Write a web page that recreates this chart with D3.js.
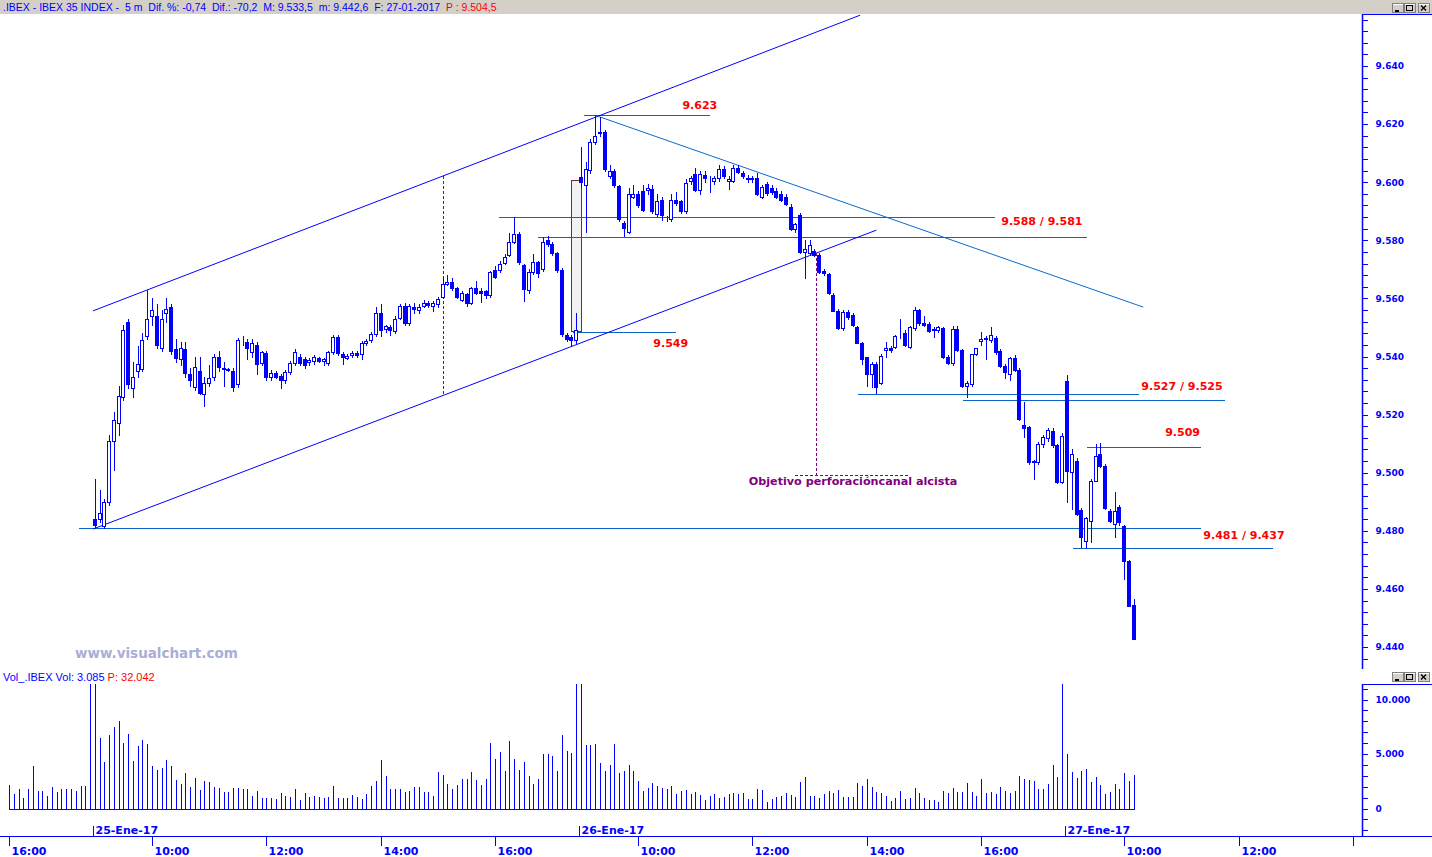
<!DOCTYPE html>
<html><head><meta charset="utf-8">
<script src="https://cdn.jsdelivr.net/npm/d3@7"></script>
<style>
body{margin:0;background:#fff;}
svg{display:block;}
text{white-space:pre;}
</style>
</head><body>
<svg id="c" width="1432" height="857"></svg>
<script>
// ---------------- DATA ----------------
const sessions = [
  {date:"24-Ene-17", open:"16:00", bars:18},
  {date:"25-Ene-17", open:"09:00", bars:102},
  {date:"26-Ene-17", open:"09:00", bars:102},
  {date:"27-Ene-17", open:"09:00", bars:102}
];
const priceStart = {date:"25-Ene-17", time:"09:00"};
const volumeStart = {date:"24-Ene-17", time:"16:00"};
const timeTickLabels = ["10:00","12:00","14:00","16:00"];
const priceTicks = d3.range(9436, 9657, 4);
const priceLabelStep = 20;
const volumeTicks = d3.range(-2000, 11001, 1000);
const volumeLabelTicks = [0, 5000, 10000];

const open = [
9484,9484,9481.5,9490,9511,9517,9526,9552,9529,9535,
9535.7,9547,9554,9554,9543,9555,9557,9542.6,9539,9542.6,
9534,9529.5,9535,9527,9531,9533,9540,9535.7,9535.7,9535,
9530.5,9545.3,9545,9541.5,9544,9537.8,9541.3,9533,9534.4,9533.3,
9532,9534.7,9537.8,9539.8,9539,9538,9538.4,9539.5,9538.5,9537.8,
9541.5,9546.7,9540.8,9539.5,9540.5,9541.2,9540.8,9544.6,9545.7,9547.7,
9555,9549.4,9550,9548.8,9553.2,9557.4,9551.5,9557,9556,9557.4,
9558.4,9557.4,9558,9560.5,9565,9565.8,9563.5,9559.4,9561.5,9558.4,
9563.5,9562.5,9562.6,9561,9569.8,9569.8,9572.2,9575,9579.4,9582,
9571.5,9563,9569,9572.5,9570,9580,9578.8,9575.6,9569.8,9547.4,
9546.8,9545.7,9601.8,9599,9604.2,9613.7,9617.4,9617.4,9602.2,9603.8,
9598.7,9585.8,9583,9595,9596,9597,9597.4,9597.5,9589,9594,
9587.5,9587.2,9593.9,9593.4,9590,9600.5,9602.8,9597.3,9602.5,9601,
9600.5,9601.3,9604.7,9600.4,9600.4,9604.8,9603,9601.5,9601,9601.3,
9595,9599.3,9598,9597,9596,9595,9591.6,9584,9588.7,9576,
9575.5,9576.4,9575,9569.5,9568.3,9561.2,9555.8,9549.7,9555.4,9554.3,
9550,9544.8,9539.7,9534,9537.4,9531,9542.2,9542.8,9543.4,9547.5,
9548,9543.4,9549.7,9556,9551.5,9551.2,9549,9549,9549.7,9540,
9537.6,9549.4,9542.2,9529.8,9530.5,9541,9545.3,9546,9545.7,9546.3,
9541.9,9536.8,9534,9539.4,9535.4,9516.4,9515.6,9503.8,9503.8,9509.8,
9511.8,9514.3,9509.5,9496.9,9531.6,9500.3,9504,9487.2,9476.6,9483.5,
9497.3,9506.4,9502.4,9486.8,9482.3,9488.1,9481.6,9469.7,9454.5
];
const high = [
9498,9494,9491,9513,9521,9530,9551,9553,9538,9543.6,
9548,9563,9560,9558,9556,9560,9558,9546,9545,9545,
9536,9540,9540,9533,9537,9541,9542,9538,9536,9536,
9546.5,9547,9546,9546,9545,9542,9542,9535.5,9535,9534,
9535.5,9538.5,9542.5,9541,9540,9539.5,9540.5,9540,9539.5,9542,
9547.5,9547.5,9541.5,9541,9542,9542,9545.5,9546,9548.5,9557,
9558,9551,9551,9554,9558,9558.5,9558,9558.5,9558,9559.5,
9559,9559,9560.5,9567.5,9568,9567,9564,9562.5,9562,9564,
9566,9563.5,9563,9569.5,9571,9573,9575.3,9582.4,9588,9583,
9572,9570,9575.3,9573,9581,9581.5,9579.5,9576,9570.5,9548,
9547.5,9555,9612,9607,9615,9623,9622.5,9618,9605.9,9604.5,
9599,9586.5,9598,9599,9597,9599,9599.5,9599,9596,9595,
9588.5,9596,9596.5,9594,9601,9602,9605,9604,9604,9602,
9602,9606,9605.5,9602,9606,9606,9604,9602.5,9602,9603,
9599,9600,9599,9598,9597,9596,9592.5,9586,9589.5,9580,
9580,9577,9575.5,9570,9568.8,9562,9556.5,9556,9556,9555,
9550.5,9545,9540,9538,9538,9541,9545,9543.5,9547.5,9553,
9549,9550.5,9557,9556.5,9554,9552,9550,9550.5,9550,9540.5,
9550.5,9550.5,9542.5,9531.5,9541,9543,9548.6,9547,9550,9547,
9542.5,9537.5,9540,9540.5,9536,9524.4,9516,9504.5,9510.5,9513,
9515.5,9515.5,9510,9513.5,9533.5,9508,9505,9488,9484.8,9498,
9510,9510.1,9503,9487.5,9493.5,9489,9482,9470,9456.5
];
const low = [
9481,9483,9481,9489,9501,9513,9525,9529,9526,9533,
9535,9546,9551,9543,9542,9552,9541,9538,9537,9533,
9530,9528.5,9527,9523,9530,9532,9535,9530,9535,9528,
9529.5,9544,9539,9540,9534,9537,9532,9532,9532.5,9529,
9531,9534,9537,9537,9536,9537,9537.5,9538,9537,9537,
9541,9540.5,9537.5,9539,9540,9540,9539,9544,9545,9547,
9547,9548.5,9547.4,9548,9553,9551,9551,9555,9555,9557,
9557,9555.5,9557,9560,9564.5,9563,9560,9559,9557.5,9558,
9561.5,9558.7,9560,9560.5,9567,9569,9572,9574.5,9579,9572,
9559,9562,9568.5,9567.5,9569.5,9578,9575,9569,9547,9545.5,
9543.6,9544.5,9598.5,9583,9603,9613,9616,9604,9601.5,9598.5,
9586.5,9581.6,9582.5,9594.5,9591.5,9590,9596,9589.5,9588.5,9587,
9586.5,9586.5,9592,9589.5,9589.5,9599.5,9597,9596,9600,9596.5,
9599.5,9600.5,9601.5,9597.6,9600,9603,9601.5,9600,9600,9595.5,
9594.5,9595.5,9596,9594.5,9593.5,9592,9583.5,9583,9575.5,9567,
9575,9574.5,9568.8,9568,9561.5,9555.5,9549.5,9549.2,9553,9550.5,
9544.5,9537.5,9529.8,9529.5,9527.6,9530.5,9540,9541.5,9543,9546.5,
9543.5,9543,9549,9551,9550.5,9548.5,9546.8,9548.5,9539.5,9537.5,
9537,9541.8,9529.5,9526.2,9530,9540.5,9544,9539,9545,9541,
9536.5,9532.5,9532,9535,9518,9512.4,9503,9497.8,9503,9509,
9511,9509,9496.5,9496.5,9490,9487.4,9485.5,9474.3,9474,9476,
9497,9502,9487.5,9483,9478,9482,9463.3,9454,9442.6
];
const close = [
9482,9486,9490,9511,9518,9526.5,9549,9530.5,9533,9537.4,
9545.7,9553,9556,9544,9553,9556.3,9542,9539.5,9543,9534.3,
9532,9536.4,9527.4,9531,9532.6,9540,9536.4,9535.9,9535.2,9529.5,
9545.7,9545.5,9543,9544.6,9537.4,9541.5,9533,9534.4,9533,9532,
9534.7,9537.8,9541.5,9537.8,9537,9538.8,9539.8,9538.4,9539,9541.5,
9546.7,9541.2,9539.8,9540.2,9541.2,9540.5,9544.7,9545.3,9547.7,9555,
9549,9550.6,9549,9553,9557.4,9551.5,9557.4,9556.5,9557,9558.4,
9557.6,9558.4,9559.8,9565,9565.8,9563.5,9560.6,9561.8,9558.4,9563.5,
9562,9562,9561.1,9569,9567.5,9572,9574.3,9579.4,9582,9572.4,
9563.2,9569,9572.5,9568.8,9579.5,9578.8,9575.6,9569.8,9547.6,9546,
9545.6,9549,9600,9604.6,9614,9616,9616.8,9604.7,9603.8,9599.2,
9587.2,9584.4,9596,9596,9592,9590.4,9598,9590,9593.5,9588.7,
9587.2,9593.9,9592.7,9590,9599.6,9601.3,9597.3,9602.8,9601.5,9601.2,
9601.3,9604.7,9602,9601,9604.8,9603.5,9602,9601.2,9601.3,9596,
9598.2,9596.3,9596.5,9595,9594,9592.5,9584,9585.5,9576,9577,
9578.4,9575,9569.2,9568.6,9562,9555.8,9549.7,9555.4,9553.5,9550.9,
9544.8,9539,9534,9537.4,9529.6,9540.2,9542.8,9542.3,9547,9547.3,
9544,9550,9556,9551.4,9551,9548.8,9549.3,9550,9540,9537.9,
9549.4,9542.2,9529.8,9531,9540.7,9542.8,9546,9546.3,9547.4,9541.4,
9536.8,9534.8,9539.4,9535.4,9518.4,9515.3,9503.8,9504,9509.8,9512.2,
9514.7,9509.5,9496.9,9512.8,9500.7,9506.6,9485.7,9477.8,9484.3,9497.3,
9505.7,9502.4,9487.9,9483.5,9486.8,9483,9469.7,9454.1,9442.6
];
const volume = [
2190,1340,1810,1000,1810,3875,1625,1625,1160,1940,
1530,1750,1810,1810,1625,2030,2090,12500,12000,
6500,4280,6780,7500,8000,6030,6875,4375,5750,6310,
5940,3875,3500,3750,4440,3875,2660,2280,3220,2000,
2840,1660,2530,2470,1970,1900,1470,1500,1900,1900,
1780,1780,1160,1625,970,970,970,900,1400,1160,
1060,1810,780,1400,1060,1125,1060,1000,1060,2090,
970,970,970,1250,1060,900,1340,2090,2560,4470,
2940,1810,1810,1810,1470,1625,2000,2000,1530,1530,
1160,3310,3030,2280,1810,2190,2750,2750,3310,2660,
2190,2750,6030,4530,5190,3400,6220,4530,3500,4250,
2940,2280,2750,5000,5000,4810,3400,6780,5280,5090,
12500,12000,5840,5840,5940,4160,3400,3970,5940,3220,
3400,3970,3400,2560,1625,1900,2340,2090,1900,1810,
2090,1340,1625,1720,1340,1530,1240,775,1140,1330,
990,1080,1330,1450,1330,1450,865,865,1790,1700,
555,865,1050,1140,1450,1240,1050,2440,2900,1140,
1140,960,1330,1600,1420,1700,1050,1050,1050,2350,
2070,2720,1980,1510,1420,1140,680,960,1600,865,
960,1880,1420,960,775,775,590,1600,1420,1880,
1510,1510,2350,1510,1140,2720,1420,1510,1330,1980,
1600,1420,1600,3000,2720,2630,2530,1790,1790,2260,
4020,2900,11500,5000,3370,2810,3460,3650,2440,2900,
2160,1330,1510,2260,1790,3270,2530,3085
];

// annotation geometry, in bar index (0 = 25-Ene 09:00) and price
const channelLines = [
  {i0:-0.4, v0:9555.7, i1:160.6, v1:9657.5},
  {i0:-0.4, v0:9480.6, i1:164.0, v1:9583.5}
];
const trendLine = {i0:105.4, v0:9622.8, i1:220.0, v1:9557.0};
const levelLines = [
  {value:9623, from:102.7, to:129.1},
  {value:9588, from:84.8, to:188.9},
  {value:9581, from:93.0, to:208.2},
  {value:9548.5, from:100.4, to:122.0},
  {value:9481, from:-3.3, to:232.2},
  {value:9474, from:205.3, to:247.3},
  {value:9527, from:160.2, to:219.1},
  {value:9525, from:182.2, to:237.2},
  {value:9509, from:208.2, to:232.2}
];
const levelLabels = [
  {text:"9.623", at:130.6, value:9625.2, anchor:"end"},
  {text:"9.588 / 9.581", at:190.2, value:9585.3, anchor:"start"},
  {text:"9.549", at:124.5, value:9543.3, anchor:"end"},
  {text:"9.527 / 9.525", at:219.6, value:9528.5, anchor:"start"},
  {text:"9.509", at:231.9, value:9512.6, anchor:"end"},
  {text:"9.481 / 9.437", at:232.6, value:9477.2, anchor:"start"}
];
const gapBox = {from:99.95, to:102.05, low:9548.8, high:9600.7};
const channelWidthMark = {at:73.1};
const objective = {at:151.3, target:9499.2, from:147.0, to:170.6,
                   label:"Objetivo perforacióncanal alcista", labelAt:159.1, labelValue:9495.8};
const headerParts = [
  {text:".IBEX - IBEX 35 INDEX -  5 m  Dif. %: -0,74  Dif.: -70,2  M: 9.533,5  m: 9.442,6  F: 27-01-2017  ", color:"#0000ff"},
  {text:"P : 9.504,5", color:"#ff0000"}
];
const volumeHeader = [
  {text:"Vol_.IBEX Vol: 3.085 ", color:"#0000ff"},
  {text:"P: 32.042", color:"#ff0000"}
];

// ---------------- SLOTS ----------------
const toMin = t => { const [h,m] = t.split(":").map(Number); return h*60+m; };
const fmtTime = m => String(Math.floor(m/60)).padStart(2,"0")+":"+String(m%60).padStart(2,"0");
const slots = [];
sessions.forEach((s, si) => {
  for (let k = 0; k < s.bars; k++) slots.push({date:s.date, time:fmtTime(toMin(s.open)+5*k), session:si, first:k===0});
});
const findSlot = o => slots.findIndex(s => s.date===o.date && s.time===o.time);
const base = findSlot(priceStart);
slots.forEach((s, k) => s.idx = k - base);
const volOffset = findSlot(volumeStart) - base;

// ---------------- SCALES ----------------
const W = 1432, H = 857;
const axisX = 1362;
const x = d3.scaleLinear().domain([-19.9, 265.9]).range([0, axisX]);
const y = d3.scaleLinear().domain([9440, 9640]).range([647, 66]);
const yv = d3.scaleLinear().domain([0, 10000]).range([808.5, 699.5]);

const BLUE = "#0000ff", LEVEL = "#0a64c8", RED = "#ff0000", PURPLE = "#800080";
const FONT_B = "DejaVu Sans, Verdana, sans-serif";
const svg = d3.select("#c");
svg.append("rect").attr("width", W).attr("height", H).attr("fill", "#fff");

const defs = svg.append("defs");
defs.append("clipPath").attr("id","pclip").append("rect").attr("x",0).attr("y",15).attr("width",axisX).attr("height",655);
defs.append("clipPath").attr("id","vclip").append("rect").attr("x",0).attr("y",684).attr("width",axisX).attr("height",150);

// ---------------- TITLE BAR ----------------
svg.append("rect").attr("x",0).attr("y",0).attr("width",W).attr("height",14).attr("fill","#d4d0c8");
const ht = svg.append("text").attr("x",3).attr("y",11).attr("font-family","Liberation Sans, Arial, sans-serif").attr("font-size",10.5);
headerParts.forEach(p => ht.append("tspan").attr("fill", p.color).text(p.text));

function winButtons(yTop){
  const g = svg.append("g").attr("shape-rendering","crispEdges");
  [1392, 1404, 1418].forEach((bx, k) => {
    g.append("rect").attr("x",bx+0.5).attr("y",yTop+0.5).attr("width",11).attr("height",9).attr("fill","#d4d0c8").attr("stroke","#808080");
    g.append("line").attr("x1",bx+1).attr("x2",bx+11).attr("y1",yTop+1.5).attr("y2",yTop+1.5).attr("stroke","#fff");
    if (k===0) g.append("line").attr("x1",bx+3).attr("x2",bx+7).attr("y1",yTop+7.5).attr("y2",yTop+7.5).attr("stroke","#000").attr("stroke-width",2);
    if (k===1) g.append("rect").attr("x",bx+2.5).attr("y",yTop+2.5).attr("width",6).attr("height",5).attr("fill","none").attr("stroke","#000").attr("stroke-width",1);
    if (k===2) { g.append("path").attr("d",`M${bx+3},${yTop+2.5}L${bx+8},${yTop+7.5}M${bx+8},${yTop+2.5}L${bx+3},${yTop+7.5}`).attr("stroke","#000").attr("stroke-width",1.3).attr("shape-rendering","auto"); }
  });
}
winButtons(3);
winButtons(672);

// ---------------- PRICE PANEL ----------------
const pg = svg.append("g").attr("clip-path","url(#pclip)");
pg.append("rect").attr("x", Math.round(x(gapBox.from))+0.5).attr("y", Math.round(y(gapBox.high))+0.5)
  .attr("width", Math.round(x(gapBox.to))-Math.round(x(gapBox.from)))
  .attr("height", Math.round(y(gapBox.low))-Math.round(y(gapBox.high)))
  .attr("fill","#f2f2f2").attr("stroke","#7b2a2a").attr("shape-rendering","crispEdges");

levelLines.forEach(l => {
  const yy = Math.round(y(l.value)) + 0.5;
  pg.append("line").attr("x1", x(l.from)).attr("x2", x(l.to)).attr("y1", yy).attr("y2", yy)
    .attr("stroke", LEVEL).attr("stroke-width",1).attr("shape-rendering","crispEdges");
});
channelLines.forEach(c => pg.append("line").attr("x1",x(c.i0)).attr("y1",y(c.v0)).attr("x2",x(c.i1)).attr("y2",y(c.v1)).attr("stroke",BLUE).attr("stroke-width",1));
pg.append("line").attr("x1",x(trendLine.i0)).attr("y1",y(trendLine.v0)).attr("x2",x(trendLine.i1)).attr("y2",y(trendLine.v1)).attr("stroke","#0a6ad0").attr("stroke-width",1);

const onLine = (c, i) => c.v0 + (c.v1-c.v0)*(i-c.i0)/(c.i1-c.i0);
{
  const xx = Math.round(x(channelWidthMark.at))+0.5;
  pg.append("line").attr("x1",xx).attr("x2",xx).attr("y1",y(onLine(channelLines[0],channelWidthMark.at))).attr("y2",y(onLine(channelLines[1],channelWidthMark.at)))
    .attr("stroke",PURPLE).attr("stroke-dasharray","3,2").attr("shape-rendering","crispEdges");
}
{
  const xx = Math.round(x(objective.at))+0.5;
  const yt = Math.round(y(objective.target))+0.5;
  pg.append("line").attr("x1",xx).attr("x2",xx).attr("y1",y(onLine(channelLines[1],objective.at))).attr("y2",yt)
    .attr("stroke",PURPLE).attr("stroke-dasharray","3,2").attr("shape-rendering","crispEdges");
  pg.append("line").attr("x1",x(objective.from)).attr("x2",x(objective.to)).attr("y1",yt).attr("y2",yt)
    .attr("stroke",PURPLE).attr("stroke-dasharray","3,2").attr("shape-rendering","crispEdges");
  svg.append("text").attr("x",x(objective.labelAt)).attr("y",y(objective.labelValue)).attr("text-anchor","middle")
    .attr("font-family",FONT_B).attr("font-weight","bold").attr("font-size",11.2)
    .attr("fill",PURPLE).text(objective.label);
}

// candles
const bars = open.map((o, i) => ({i, o, h:high[i], l:low[i], c:close[i]}));
const cg = pg.append("g").attr("shape-rendering","crispEdges");
bars.forEach(b => {
  const a = Math.round(x(b.i)) - 2;
  const top = Math.round(y(Math.max(b.o,b.c))), bot = Math.round(y(Math.min(b.o,b.c)));
  cg.append("line").attr("x1",a+2.5).attr("x2",a+2.5).attr("y1",Math.round(y(b.h))).attr("y2",Math.round(y(b.l))+1).attr("stroke",BLUE);
  const up = b.c > b.o;
  cg.append("rect").attr("x",a+0.5).attr("y",top+0.5).attr("width",3).attr("height",Math.max(bot-top,0))
    .attr("fill", up ? "#fff" : BLUE).attr("stroke",BLUE).attr("stroke-width",1);
});

levelLabels.forEach(l => svg.append("text").attr("x",x(l.at)).attr("y",y(l.value)).attr("text-anchor",l.anchor)
  .attr("font-family",FONT_B).attr("font-weight","bold").attr("font-size",11)
  .attr("fill",RED).text(l.text));

// price axis
const fmtP = d => d3.format(".3f")(d/1000);
const pax = svg.append("g").attr("transform",`translate(${axisX+0.5},0)`).attr("shape-rendering","crispEdges")
  .call(d3.axisRight(y).tickValues(priceTicks).tickSize(5).tickPadding(8)
        .tickFormat(d => d % priceLabelStep === 0 && d <= 9640 ? fmtP(d) : ""));
pax.select(".domain").remove();
pax.selectAll(".tick line").attr("stroke",BLUE);
pax.selectAll(".tick text").attr("fill",BLUE).attr("font-family",FONT_B).attr("font-weight","bold").attr("font-size",9);
svg.append("line").attr("x1",axisX+0.5).attr("x2",axisX+0.5).attr("y1",14).attr("y2",669).attr("stroke",BLUE).attr("stroke-width",1.5);
svg.append("line").attr("x1",axisX).attr("x2",W).attr("y1",14.5).attr("y2",14.5).attr("stroke",BLUE);

svg.append("text").attr("x",75).attr("y",658).attr("font-family",FONT_B).attr("font-weight","bold")
  .attr("font-size",13.5).attr("fill","#a9aed6").text("www.visualchart.com");

// ---------------- VOLUME PANEL ----------------
const vt = svg.append("text").attr("x",3).attr("y",681).attr("font-family","Liberation Sans, Arial, sans-serif").attr("font-size",11);
volumeHeader.forEach(p => vt.append("tspan").attr("fill",p.color).text(p.text));

const vg = svg.append("g").attr("clip-path","url(#vclip)").attr("shape-rendering","crispEdges");
volume.forEach((v, k) => {
  const xx = Math.round(x(k + volOffset)) + 0.5;
  vg.append("line").attr("x1",xx).attr("x2",xx).attr("y1",Math.round(yv(0))+0.5).attr("y2",yv(v)).attr("stroke",BLUE);
});
vg.append("line").attr("x1",Math.round(x(volOffset))).attr("x2",Math.round(x(volume.length-1+volOffset))+1)
  .attr("y1",Math.round(yv(0))+0.5).attr("y2",Math.round(yv(0))+0.5).attr("stroke",BLUE);

const loc = d3.formatLocale({decimal:",", thousands:".", grouping:[3], currency:["",""]});
const fmtV = loc.format(",");
const vax = svg.append("g").attr("transform",`translate(${axisX+0.5},0)`).attr("shape-rendering","crispEdges")
  .call(d3.axisRight(yv).tickValues(volumeTicks).tickSize(5).tickPadding(8)
        .tickFormat(d => volumeLabelTicks.includes(d) ? fmtV(d) : ""));
vax.select(".domain").remove();
vax.selectAll(".tick line").attr("stroke",BLUE);
vax.selectAll(".tick text").attr("fill",BLUE).attr("font-family",FONT_B).attr("font-weight","bold").attr("font-size",9);
svg.append("line").attr("x1",axisX+0.5).attr("x2",axisX+0.5).attr("y1",684).attr("y2",837).attr("stroke",BLUE).attr("stroke-width",1.5);
svg.append("line").attr("x1",axisX).attr("x2",W).attr("y1",684.5).attr("y2",684.5).attr("stroke",BLUE);

// ---------------- TIME AXIS ----------------
const ta = svg.append("g").attr("shape-rendering","crispEdges");
ta.append("line").attr("x1",0).attr("x2",W).attr("y1",836.5).attr("y2",836.5).attr("stroke",BLUE);
const tfont = g => g.attr("font-family",FONT_B).attr("font-weight","bold").attr("font-size",11).attr("fill",BLUE);
slots.forEach(s => {
  const xs = Math.round(x(s.idx)) + 0.5;
  if (xs < 0 || xs > W) return;
  if (timeTickLabels.includes(s.time)) {
    ta.append("line").attr("x1",xs).attr("x2",xs).attr("y1",837).attr("y2",846).attr("stroke",BLUE);
    if (xs + 38 < axisX) ta.append("text").attr("x",xs+2).attr("y",855).call(tfont).text(s.time);
  }
  if (s.first && s.session > 0) {
    ta.append("line").attr("x1",xs-2).attr("x2",xs-2).attr("y1",826).attr("y2",836).attr("stroke",BLUE);
    ta.append("text").attr("x",xs).attr("y",834).call(tfont).text(s.date);
  }
});
</script>
</body></html>
